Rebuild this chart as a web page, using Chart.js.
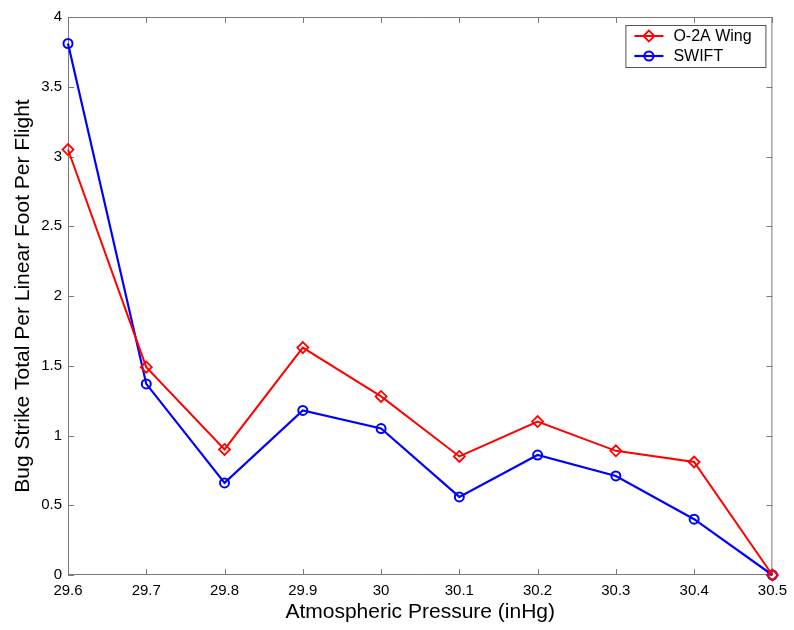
<!DOCTYPE html>
<html>
<head>
<meta charset="utf-8">
<script src="https://cdn.jsdelivr.net/npm/chart.js@4.4.0/dist/chart.umd.min.js"></script>
<style>
  html, body { margin: 0; padding: 0; background: #ffffff; }
  #wrap { width: 794px; height: 630px; }
</style>
</head>
<body>
<div id="wrap"><canvas id="c" width="794" height="630"></canvas></div>
<script>
// Atmospheric pressure readings (inHg)
const pressure = [29.6, 29.7, 29.8, 29.9, 30.0, 30.1, 30.2, 30.3, 30.4, 30.5];
// Bug strikes per linear foot per flight
const o2aWing = [3.05, 1.49, 0.90, 1.63, 1.28, 0.85, 1.10, 0.89, 0.81, 0.00];
const swift   = [3.81, 1.37, 0.66, 1.18, 1.05, 0.56, 0.86, 0.71, 0.40, 0.00];
// Axis tick values
const xTicks = [29.6, 29.7, 29.8, 29.9, 30.0, 30.1, 30.2, 30.3, 30.4, 30.5];
const yTicks = [0, 0.5, 1, 1.5, 2, 2.5, 3, 3.5, 4];

const FONT = "'Liberation Sans', Arial, Helvetica, sans-serif";
const AXIS_COLOR = '#7a7a7a';

const toPoints = ys => pressure.map((x, i) => ({ x: x, y: ys[i] }));

// Box around the plot area with inward-pointing tick marks on all four sides
const boxTicks = {
  id: 'boxTicks',
  beforeDatasetsDraw(chart) {
    const { ctx, chartArea: a, scales } = chart;
    const len = 6;
    ctx.save();
    ctx.strokeStyle = AXIS_COLOR;
    ctx.lineWidth = 1;
    ctx.beginPath();
    ctx.rect(a.left + 0.5, a.top + 0.5, a.right - a.left - 1, a.bottom - a.top - 1);
    scales.x.ticks.forEach(t => {
      const px = Math.round(scales.x.getPixelForValue(t.value)) + 0.5;
      ctx.moveTo(px, a.bottom); ctx.lineTo(px, a.bottom - len);
      ctx.moveTo(px, a.top); ctx.lineTo(px, a.top + len);
    });
    scales.y.ticks.forEach(t => {
      const py = Math.round(scales.y.getPixelForValue(t.value)) + 0.5;
      ctx.moveTo(a.left, py); ctx.lineTo(a.left + len, py);
      ctx.moveTo(a.right, py); ctx.lineTo(a.right - len, py);
    });
    ctx.stroke();
    ctx.restore();
  }
};

// Legend box in the upper-right corner: line sample with marker, then label
const lineLegend = {
  id: 'lineLegend',
  afterDraw(chart) {
    const { ctx, chartArea: a } = chart;
    const w = 140, h = 42;
    const x0 = a.right - 7 - w, y0 = a.top + 8;
    ctx.save();
    ctx.fillStyle = '#ffffff';
    ctx.fillRect(x0, y0, w, h);
    ctx.strokeStyle = '#555555';
    ctx.lineWidth = 1;
    ctx.strokeRect(x0 + 0.5, y0 + 0.5, w, h);
    chart.data.datasets.forEach((ds, i) => {
      const cy = y0 + 11 + i * 20;
      const lx0 = x0 + 9, lx1 = x0 + 38, mx = (lx0 + lx1) / 2;
      ctx.strokeStyle = ds.borderColor;
      ctx.lineWidth = ds.borderWidth;
      ctx.beginPath();
      ctx.moveTo(lx0, cy); ctx.lineTo(lx1, cy);
      ctx.stroke();
      ctx.fillStyle = 'rgba(0,0,0,0)';
      ctx.strokeStyle = ds.pointBorderColor;
      ctx.lineWidth = ds.pointBorderWidth;
      Chart.helpers.drawPoint(ctx, {
        pointStyle: ds.pointStyle,
        radius: ds.pointRadius,
        borderWidth: ds.pointBorderWidth,
        rotation: 0
      }, mx, cy);
      ctx.fillStyle = '#000000';
      ctx.font = '16px ' + FONT;
      ctx.textBaseline = 'middle';
      ctx.textAlign = 'left';
      ctx.fillText(ds.label, x0 + 48, cy + 1);
    });
    ctx.restore();
  }
};

new Chart(document.getElementById('c'), {
  type: 'line',
  data: {
    datasets: [
      {
        label: 'O-2A Wing',
        data: toPoints(o2aWing),
        borderColor: '#ff0000',
        backgroundColor: 'rgba(0,0,0,0)',
        borderWidth: 2,
        pointStyle: 'rectRot',
        pointRadius: 5.5,
        pointBorderWidth: 1.8,
        pointBorderColor: '#ff0000',
        pointBackgroundColor: 'rgba(0,0,0,0)',
        tension: 0,
        clip: false
      },
      {
        label: 'SWIFT',
        data: toPoints(swift),
        borderColor: '#0000ff',
        backgroundColor: 'rgba(0,0,0,0)',
        borderWidth: 2.2,
        pointStyle: 'circle',
        pointRadius: 4.5,
        pointBorderWidth: 2,
        pointBorderColor: '#0000ff',
        pointBackgroundColor: 'rgba(0,0,0,0)',
        tension: 0,
        clip: false
      }
    ]
  },
  options: {
    responsive: false,
    animation: false,
    layout: { padding: { left: 0, top: 17, right: 20, bottom: 0 } },
    plugins: {
      legend: { display: false },
      tooltip: { enabled: false }
    },
    scales: {
      x: {
        type: 'linear',
        min: 29.6,
        max: 30.5,
        afterBuildTicks: s => { s.ticks = xTicks.map(v => ({ value: v })); },
        afterFit: s => { s.height = 55; },
        grid: { drawOnChartArea: false, drawTicks: false },
        border: { display: false },
        ticks: {
          padding: 7,
          color: '#000000',
          font: { family: FONT, size: 15 },
          maxRotation: 0,
          autoSkip: false,
          callback: v => String(+Number(v).toFixed(1))
        },
        title: {
          display: true,
          text: 'Atmospheric Pressure (inHg)',
          color: '#000000',
          font: { family: FONT, size: 21 },
          padding: { top: 0, bottom: 5 }
        }
      },
      y: {
        type: 'linear',
        min: 0,
        max: 4,
        afterBuildTicks: s => { s.ticks = yTicks.map(v => ({ value: v })); },
        afterFit: s => { s.width = 68; },
        grid: { drawOnChartArea: false, drawTicks: false },
        border: { display: false },
        ticks: {
          padding: 6,
          color: '#000000',
          font: { family: FONT, size: 15 },
          autoSkip: false,
          callback: v => String(v)
        },
        title: {
          display: true,
          text: 'Bug Strike Total Per Linear Foot Per Flight',
          color: '#000000',
          font: { family: FONT, size: 21 },
          padding: { top: 11, bottom: 0 }
        }
      }
    }
  },
  plugins: [boxTicks, lineLegend]
});
</script>
</body>
</html>
